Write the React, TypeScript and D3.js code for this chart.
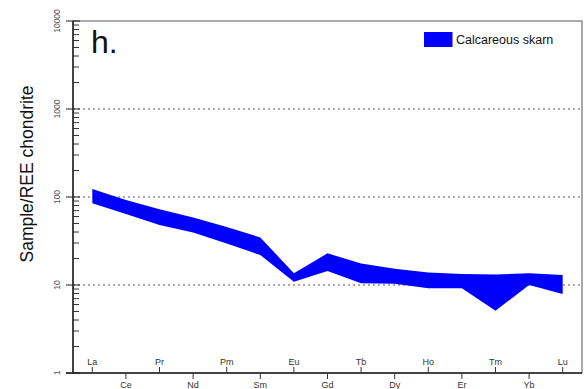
import React from "react";
import * as d3 from "d3";

// Chondrite-normalised REE pattern for the calcareous skarn samples (min / max envelope)
const elements = ["La", "Ce", "Pr", "Nd", "Pm", "Sm", "Eu", "Gd", "Tb", "Dy", "Ho", "Er", "Tm", "Yb", "Lu"];
const upperValues = [123, 92.5, 72.5, 58.5, 45.6, 34.7, 13.6, 22.9, 17.6, 15.3, 13.9, 13.3, 13.2, 13.6, 13.0];
const lowerValues = [84.8, 64.1, 48.1, 39.5, 29.6, 21.9, 10.9, 14.4, 10.5, 10.3, 9.2, 9.2, 5.1, 10.0, 7.9];
const yTickValues = [1, 10, 100, 1000, 10000];
const gridValues = [10, 100, 1000];
const seriesName = "Calcareous skarn";
const panelLabel = "h.";
const yTitle = "Sample/REE chondrite";

const W = 587;
const H = 389;
const left = 73;
const right = 582;
const top = 21;
const bottom = 373;
const font = "Liberation Sans, Arial, sans-serif";

export default function App() {
  const x = d3.scalePoint<string>().domain(elements).range([left, right]).padding(0.575);
  const y = d3.scaleLog().domain([1, 10000]).range([bottom, top]);

  const rows = elements.map((el, i) => ({ el, lo: lowerValues[i], hi: upperValues[i] }));
  const area = d3
    .area<{ el: string; lo: number; hi: number }>()
    .x((d) => x(d.el) as number)
    .y0((d) => y(d.lo))
    .y1((d) => y(d.hi));

  const minor: number[] = [];
  for (let dec = 1; dec < 10000; dec *= 10) {
    for (let m = 2; m <= 9; m++) minor.push(dec * m);
  }

  return (
    <svg
      width={W}
      height={H}
      style={{ position: "absolute", left: 0, top: 0, background: "#fff" }}
      fontFamily={font}
    >
      {/* dotted reference lines at each decade */}
      {gridValues.map((v) => (
        <line
          key={"g" + v}
          x1={left}
          x2={right}
          y1={y(v)}
          y2={y(v)}
          stroke="#555"
          strokeWidth={1}
          strokeDasharray="2,3"
        />
      ))}

      {/* envelope band */}
      <path d={area(rows) || ""} fill="#0000ff" stroke="none" />

      {/* frame */}
      <rect x={left} y={top} width={right - left} height={bottom - top} fill="none" stroke="#555" strokeWidth={1} />
      <line x1={left} x2={left} y1={top} y2={bottom} stroke="#222" strokeWidth={1.5} />
      <line x1={66} x2={right} y1={bottom} y2={bottom} stroke="#222" strokeWidth={1.5} />

      {/* y axis ticks */}
      {yTickValues.map((v) => (
        <g key={"t" + v}>
          <line x1={66} x2={left + 7} y1={y(v)} y2={y(v)} stroke="#222" strokeWidth={1} />
          <text
            transform={`translate(57,${y(v)}) rotate(-90)`}
            textAnchor="middle"
            dominantBaseline="central"
            fontSize={8.5}
            fill="#555"
          >
            {v}
          </text>
        </g>
      ))}
      {minor.map((v) => (
        <line key={"m" + v} x1={left} x2={left + 6} y1={y(v)} y2={y(v)} stroke="#333" strokeWidth={1} />
      ))}

      {/* x axis: alternating element labels above and below the axis */}
      {elements.map((el, i) => {
        const px = x(el) as number;
        const up = i % 2 === 0;
        return (
          <g key={el}>
            <line x1={px} x2={px} y1={bottom} y2={up ? bottom - 6 : bottom + 6} stroke="#333" strokeWidth={1} />
            <text
              x={px}
              y={up ? 362 : 385}
              textAnchor="middle"
              dominantBaseline="central"
              fontSize={9}
              fill="#333"
            >
              {el}
            </text>
          </g>
        );
      })}

      {/* y axis title */}
      <text
        transform={`translate(27,174) rotate(-90)`}
        textAnchor="middle"
        dominantBaseline="central"
        fontSize={17.5}
        fill="#111"
      >
        {yTitle}
      </text>

      {/* panel label */}
      <text x={91} y={53} fontSize={32} fill="#111">
        {panelLabel}
      </text>

      {/* legend */}
      <rect x={424} y={32} width={28.5} height={15} fill="#0000ff" />
      <text x={456} y={40} dominantBaseline="central" fontSize={12.5} fill="#111">
        {seriesName}
      </text>
    </svg>
  );
}
